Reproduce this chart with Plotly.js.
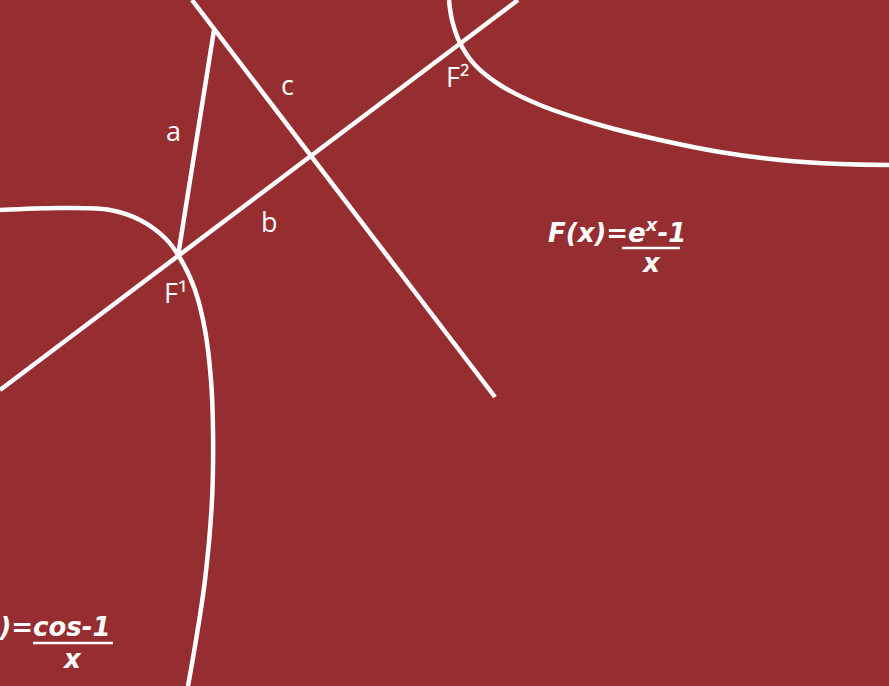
<!DOCTYPE html>
<html><head><meta charset="utf-8">
<script src="https://cdn.plot.ly/plotly-3.0.1.min.js"></script>
<style>html,body{margin:0;padding:0;background:#962d30;}#c{width:889px;height:686px;}</style>
</head><body><div id="c"></div>
<script>
// Straight lines (a, b, c)
const lineBX = [0, 518];
const lineBY = [390, 0];
const lineCX = [192, 495];
const lineCY = [0, 397];
const lineAX = [214, 178];
const lineAY = [30, 256];
// Left curve through F1
const curveLX = [0, 60, 110, 140, 165, 180, 195, 205, 211, 213, 212, 205, 196, 188];
const curveLY = [210, 208, 210, 220, 238, 258, 290, 330, 380, 430, 500, 580, 640, 686];
// Top-right curve through F2
const curveRX = [449, 452, 460, 475, 500, 540, 600, 660, 720, 780, 840, 889];
const curveRY = [0, 20, 43, 65, 85, 105, 125, 140, 152, 160, 164, 165];
// Labels
const labelText = ["a", "b", "c", "F¹", "F²"];
const labelX = [173, 269, 287, 175, 457];
const labelY = [130, 221, 84, 292, 76];
// Formulas
const formulaNum = ["F(x)=e<sup>x</sup>-1", "F(x)=cos-1"];
const formulaNumX = [617, 113];
const formulaNumY = [231, 627];
const formulaNumAnchor = ["center", "right"];
const formulaDen = ["x", "x"];
const formulaDenX = [651, 72];
const formulaDenY = [263, 659];
const barX0 = [622, 33];
const barX1 = [680, 113];
const barY = [248, 643];

const W = '#ffffff';
const ln = {color: W, width: 4.5};
const traces = [
  {x: lineBX, y: lineBY, mode: 'lines', line: ln},
  {x: lineCX, y: lineCY, mode: 'lines', line: ln},
  {x: lineAX, y: lineAY, mode: 'lines', line: ln},
  {x: curveLX, y: curveLY, mode: 'lines', line: Object.assign({shape: 'spline', smoothing: 1}, ln)},
  {x: curveRX, y: curveRY, mode: 'lines', line: Object.assign({shape: 'spline', smoothing: 1}, ln)}
];
for (let i = 0; i < barX0.length; i++) {
  traces.push({x: [barX0[i], barX1[i]], y: [barY[i], barY[i]], mode: 'lines', line: {color: W, width: 2.5}});
}
const ann = [];
labelText.forEach((t, i) => ann.push({x: labelX[i], y: labelY[i], text: t, showarrow: false, xref: 'x', yref: 'y',
  font: {family: 'Open Sans, sans-serif', size: 27, color: W}}));
const ff = {family: 'DejaVu Sans, sans-serif', size: 26, color: W};
formulaNum.forEach((t, i) => ann.push({x: formulaNumX[i], y: formulaNumY[i], text: '<b><i>' + t + '</i></b>', showarrow: false,
  xref: 'x', yref: 'y', xanchor: formulaNumAnchor[i], font: ff}));
formulaDen.forEach((t, i) => ann.push({x: formulaDenX[i], y: formulaDenY[i], text: '<b><i>' + t + '</i></b>', showarrow: false,
  xref: 'x', yref: 'y', font: ff}));

const layout = {
  width: 889, height: 686, margin: {l: 0, r: 0, t: 0, b: 0},
  paper_bgcolor: '#962d30', plot_bgcolor: '#962d30', showlegend: false,
  xaxis: {range: [0, 889], visible: false, fixedrange: true},
  yaxis: {range: [686, 0], visible: false, fixedrange: true},
  annotations: ann
};
Plotly.newPlot('c', traces, layout, {staticPlot: true, displayModeBar: false});
</script></body></html>
